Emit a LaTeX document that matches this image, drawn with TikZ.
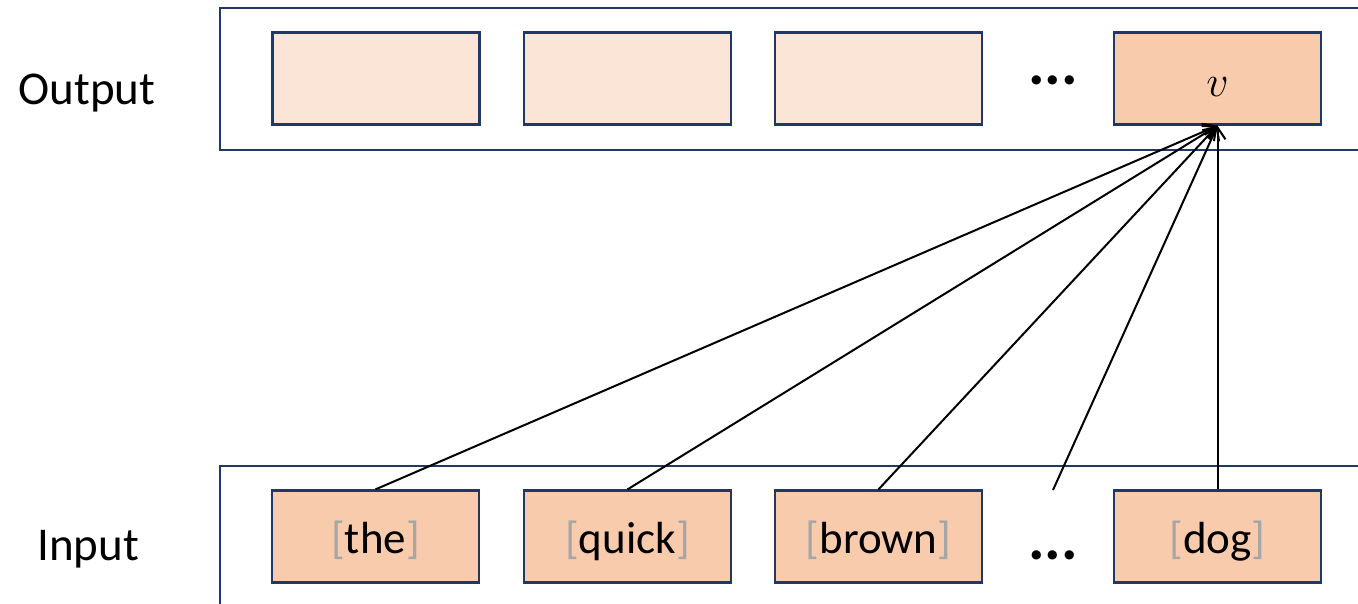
\documentclass[tikz,border=0pt]{standalone}
\usepackage{fix-cm}
\usepackage{fontspec}
\setmainfont{Carlito}
\usetikzlibrary{arrows.meta}
\definecolor{navy}{HTML}{203864}
\definecolor{lightpeach}{HTML}{FBE5D6}
\definecolor{peach}{HTML}{F8CBAD}
\definecolor{brk}{HTML}{A6A6A6}
\tikzset{
  container/.style={draw=navy,line width=1.8pt},
  outbox/.style={draw=navy,line width=2.2pt,fill=lightpeach,minimum width=207pt,minimum height=92pt,inner sep=0pt,anchor=center},
  inbox/.style={draw=navy,line width=2.2pt,fill=peach,minimum width=207pt,minimum height=92pt,inner sep=0pt,anchor=center},
  boxtext/.style={font=\fontsize{45}{54}\selectfont,inner sep=0pt},
  label/.style={font=\fontsize{47}{56}\selectfont,inner sep=0pt},
  dotsnode/.style={font=\fontsize{62}{70}\selectfont\bfseries,inner sep=0pt},
  conn/.style={line width=2pt,-{Straight Barb[length=12pt,width=16pt,line width=2pt]}}
}
\newcommand{\wrd}[1]{\textcolor{brk}{[}#1\textcolor{brk}{]}}
\begin{document}
\begin{tikzpicture}[x=1pt,y=-1pt]
\clip (0,0) rectangle (1358,603);
\fill[white] (0,0) rectangle (1358,603);
% containers
\draw[container] (220,8) rectangle (1370,150);
\draw[container] (220,466) rectangle (1370,620);
% labels
\node[label,anchor=base] (lout) at (87,104) {Output};
\node[label,anchor=base] (lin) at (88,560) {Input};
% output boxes
\node[outbox] (o1) at (376,78.5) {};
\node[outbox] (o2) at (627.5,78.5) {};
\node[outbox] (o3) at (878.5,78.5) {};
\node[dotsnode] (od) at (1053,80) {...};
\node[outbox,fill=peach] (v) at (1217.5,78.5) {};
\node[font=\fontsize{44}{50}\selectfont,inner sep=0pt,anchor=base] (vt) at (1217.5,96) {$v$};
% input boxes
\node[inbox] (i1) at (375.5,536.5) {};
\node[inbox] (i2) at (627.5,536.5) {};
\node[inbox] (i3) at (878.5,536.5) {};
\node[inbox] (i4) at (1217.5,536.5) {};
\node[boxtext,anchor=base] (t1) at (375.5,553) {\wrd{the}};
\node[boxtext,anchor=base] (t2) at (627.5,553) {\wrd{quick}};
\node[boxtext,anchor=base] (t3) at (878.5,553) {\wrd{brown}};
\node[boxtext,anchor=base] (t4) at (1217.5,553) {\wrd{dog}};
\node[dotsnode] (id) at (1053,555) {...};
\coordinate (dtop) at (1053,490);
% connectors
\draw[conn] (i1.north) -- (v.south);
\draw[conn] (i2.north) -- (v.south);
\draw[conn] (i3.north) -- (v.south);
\draw[conn] (dtop) -- (v.south);
\draw[conn] (i4.north) -- (v.south);
\end{tikzpicture}
\end{document}
